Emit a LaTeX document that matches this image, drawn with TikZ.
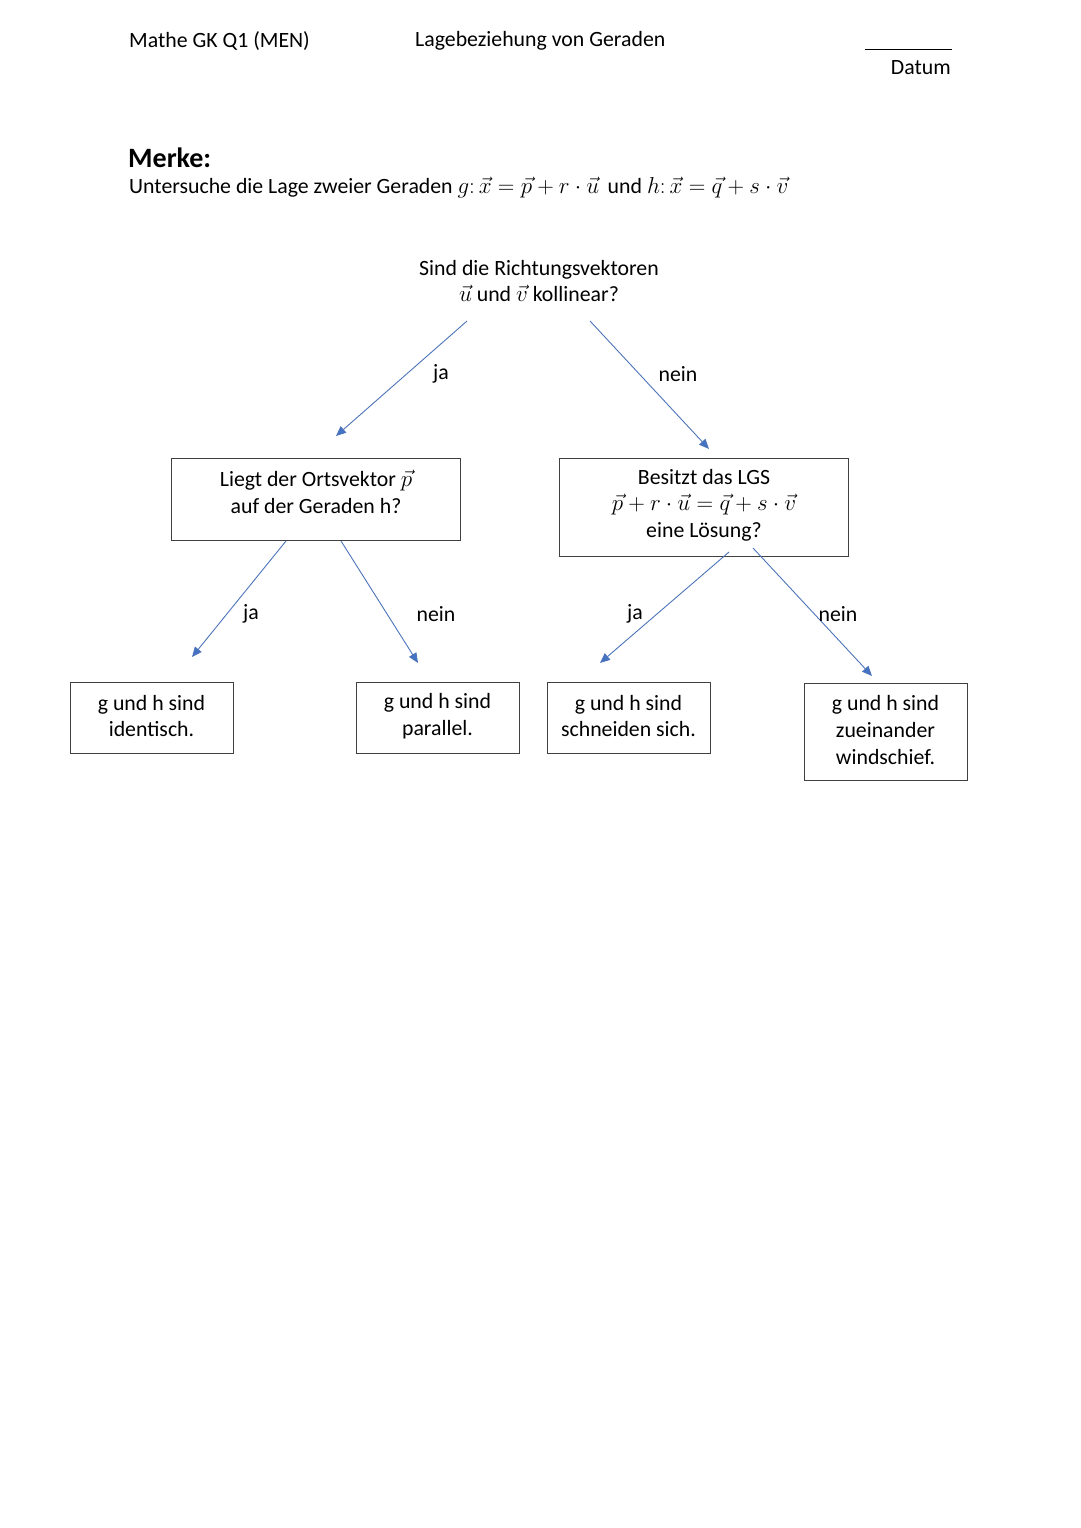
\RequirePackage{fix-cm}
\documentclass[tikz,border=0pt]{standalone}
\usepackage{fontspec}
\setmainfont{Carlito}
\usetikzlibrary{arrows.meta}
\definecolor{arrowblue}{HTML}{4472C4}
\definecolor{boxgray}{HTML}{404040}
\newcommand{\mth}[1]{{\fontsize{23}{26.5}\selectfont$#1$}}
\tikzset{
  txt/.style={inner sep=0pt, font=\fontsize{21.8}{26.5}\selectfont, align=center},
  txtl/.style={txt, anchor=west, align=left},
  boxe/.style={draw=boxgray, line width=1.2pt, inner sep=0pt, anchor=north west},
  arr/.style={draw=arrowblue!85!gray, line width=0.9pt, -{Triangle[length=10pt,width=8.5pt,fill=arrowblue]}},
}
\begin{document}
\begin{tikzpicture}[x=1pt,y=-1pt]
\useasboundingbox (0,0) rectangle (1080,1528);
% header
\node[txtl] (hdr1) at (129,41) {Mathe GK Q1 (MEN)};
\node[txtl] (hdr2) at (415,41) {Lagebeziehung von Geraden};
\coordinate (dl1) at (865,50);
\coordinate (dl2) at (952,50);
\draw[line width=1pt] (dl1) -- (dl2);
\node[txt, anchor=east] (datum) at (951,68) {Datum};
% Merke
\node[txtl, font=\fontsize{28}{32}\selectfont\bfseries] (merke) at (128,158) {Merke:};
\node[txtl] (intro) at (129,188) {Untersuche die Lage zweier Geraden \mth{g\colon \vec{x}=\vec{p}+r\cdot\vec{u}} \,und \mth{h\colon \vec{x}=\vec{q}+s\cdot\vec{v}}};
% question 1
\node[txt] (q1) at (539,281) {Sind die Richtungsvektoren\\\mth{\vec{u}} und \mth{\vec{v}} kollinear?};
% boxes level 2
\node[boxe, minimum width=289, minimum height=82] (b1) at (171,458) {};
\node[txt] (t1) at (316,492) {Liegt der Ortsvektor \mth{\vec{p}}\\auf der Geraden h?};
\node[boxe, minimum width=289, minimum height=98] (b2) at (559,458) {};
\node[txt] (t2) at (704,505) {Besitzt das LGS\\\mth{\vec{p}+r\cdot\vec{u}=\vec{q}+s\cdot\vec{v}}\\eine Lösung?};
% boxes level 3
\node[boxe, minimum width=163, minimum height=71] (r1) at (70,682) {};
\node[txt] (rt1) at (151.5,716) {g und h sind\\identisch.};
\node[boxe, minimum width=163, minimum height=71] (r2) at (356,682) {};
\node[txt] (rt2) at (437.5,716) {g und h sind\\parallel.};
\node[boxe, minimum width=163, minimum height=71] (r3) at (547,682) {};
\node[txt] (rt3) at (628.5,716) {g und h sind\\schneiden sich.};
\node[boxe, minimum width=163, minimum height=97] (r4) at (804,683) {};
\node[txt, font=\fontsize{21.8}{27}\selectfont] (rt4) at (885.5,730) {g und h sind\\zueinander\\windschief.};
% arrow coordinates
\coordinate (a1s) at (467,321); \coordinate (a1e) at (336,436);
\coordinate (a2s) at (590,321); \coordinate (a2e) at (709,449);
\coordinate (a3s) at (286,541); \coordinate (a3e) at (192,657);
\coordinate (a4s) at (341,541); \coordinate (a4e) at (418,663);
\coordinate (a5s) at (729,552); \coordinate (a5e) at (600,663);
\coordinate (a6s) at (753,548); \coordinate (a6e) at (872,676);
\draw[arr] (a1s) -- (a1e);
\draw[arr] (a2s) -- (a2e);
\draw[arr] (a3s) -- (a3e);
\draw[arr] (a4s) -- (a4e);
\draw[arr] (a5s) -- (a5e);
\draw[arr] (a6s) -- (a6e);
% labels
\node[txt] (l1) at (441,374) {ja};
\node[txt] (l2) at (678,374) {nein};
\node[txt] (l3) at (251,614) {ja};
\node[txt] (l4) at (436,614) {nein};
\node[txt] (l5) at (635,614) {ja};
\node[txt] (l6) at (838,614) {nein};
\end{tikzpicture}
\end{document}
